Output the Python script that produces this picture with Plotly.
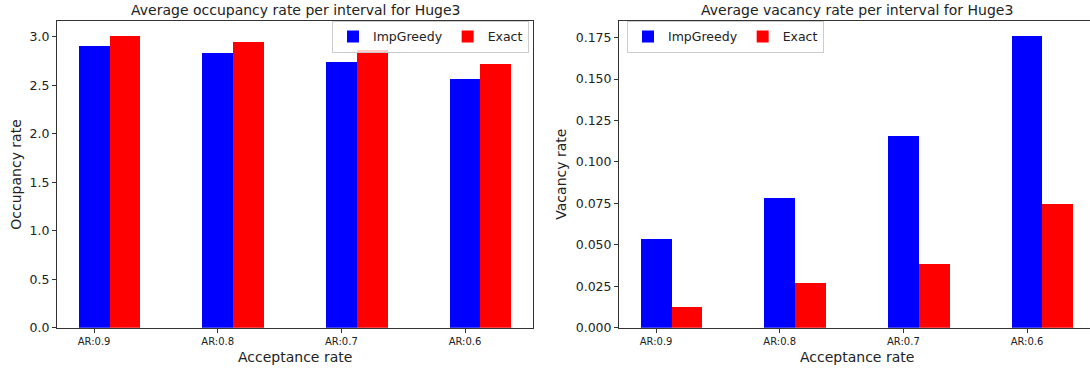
import plotly.graph_objects as go

categories = ["AR:0.9", "AR:0.8", "AR:0.7", "AR:0.6"]
occ_impgreedy = [2.915, 2.833, 2.741, 2.568]
occ_exact = [3.017, 2.949, 2.864, 2.721]
vac_impgreedy = [0.054, 0.0784, 0.1159, 0.1764]
vac_exact = [0.0129, 0.0272, 0.0385, 0.0748]
occ_ticks = [0.0, 0.5, 1.0, 1.5, 2.0, 2.5, 3.0]
vac_ticks = [0.0, 0.025, 0.05, 0.075, 0.1, 0.125, 0.15, 0.175]

W, H = 1090, 377


def px(x):
    return x / W


def py(y):
    return 1 - y / H


BW = 0.25
BLUE, RED = "#0000ff", "#ff0000"
FONT = "DejaVu Sans"
LINE = "#333333"

idx = list(range(len(categories)))
idx_shift = [i + BW for i in idx]

fig = go.Figure()
fig.add_trace(go.Bar(x=idx, y=occ_impgreedy, width=BW, marker_color=BLUE, marker_line_width=0,
                     name="ImpGreedy", xaxis="x", yaxis="y", legend="legend"))
fig.add_trace(go.Bar(x=idx_shift, y=occ_exact, width=BW, marker_color=RED, marker_line_width=0,
                     name="Exact", xaxis="x", yaxis="y", legend="legend"))
fig.add_trace(go.Bar(x=idx, y=vac_impgreedy, width=BW, marker_color=BLUE, marker_line_width=0,
                     name="ImpGreedy", xaxis="x2", yaxis="y2", legend="legend2"))
fig.add_trace(go.Bar(x=idx_shift, y=vac_exact, width=BW, marker_color=RED, marker_line_width=0,
                     name="Exact", xaxis="x2", yaxis="y2", legend="legend2"))

top, bottom = py(21), py(334)
L0, L1 = 57, 533
R0 = 619
AXW = L1 - L0
full_span = 3.85
right_hi = -0.3 + full_span * ((W - R0) / AXW)

xcommon = dict(tickvals=idx, ticktext=categories, showgrid=False, zeroline=False,
               showline=True, linecolor=LINE, linewidth=1, ticks="outside", ticklen=4,
               tickcolor=LINE, tickfont=dict(size=10, color="#222", family=FONT))
ycommon = dict(showgrid=False, zeroline=False, showline=True, linecolor=LINE, linewidth=1,
               ticks="outside", ticklen=4, tickcolor=LINE,
               tickfont=dict(size=12.5, color="#222", family=FONT))

legend_common = dict(orientation="h", bgcolor="rgba(255,255,255,0.8)", bordercolor="#cccccc",
                     borderwidth=1, font=dict(size=12.5, family=FONT, color="#222"),
                     yanchor="middle", y=py(37.5), itemwidth=30, tracegroupgap=0)

fig.update_layout(
    width=W, height=H,
    margin=dict(l=0, r=0, t=0, b=0),
    plot_bgcolor="white", paper_bgcolor="white",
    barmode="overlay", bargap=0,
    font=dict(family=FONT, color="#222"),
    xaxis=dict(domain=[px(L0), px(L1)], range=[-0.3, 3.55], anchor="y", mirror=True, **xcommon),
    yaxis=dict(domain=[bottom, top], range=[0, 3.168], anchor="x", mirror=True,
               tickvals=occ_ticks, ticktext=[f"{v:.1f}" for v in occ_ticks], **ycommon),
    xaxis2=dict(domain=[px(R0), 1.0], range=[-0.3, right_hi], anchor="y2", mirror=True, **xcommon),
    yaxis2=dict(domain=[bottom, top], range=[0, 0.1852], anchor="x2", mirror=False,
                tickvals=vac_ticks, ticktext=[f"{v:.3f}" for v in vac_ticks], **ycommon),
    legend=dict(x=px(529), xanchor="right", **legend_common),
    legend2=dict(x=px(627), xanchor="left", **legend_common),
    showlegend=True,
)

ann = [
    dict(text="Average occupancy rate per interval for Huge3", x=px((L0 + L1) / 2), y=py(10.5),
         font=dict(size=14)),
    dict(text="Average vacancy rate per interval for Huge3", x=px((R0 + R0 + AXW) / 2), y=py(10.5),
         font=dict(size=14)),
    dict(text="Acceptance rate", x=px((L0 + L1) / 2), y=py(364), font=dict(size=14)),
    dict(text="Acceptance rate", x=px((R0 + R0 + AXW) / 2), y=py(364), font=dict(size=14)),
    dict(text="Occupancy rate", x=px(16), y=py(178), textangle=-90, font=dict(size=14)),
    dict(text="Vacancy rate", x=px(561), y=py(178), textangle=-90, font=dict(size=14)),
]
for a in ann:
    fig.add_annotation(xref="paper", yref="paper", showarrow=False, xanchor="center",
                       yanchor="middle", font_family=FONT, font_color="#222", **a)

# remove the browser's default 8px body margin so the figure sits at the window's corner
fig.write_html("out.html", config={"displayModeBar": False},
               post_script="document.body.style.margin='0';")
